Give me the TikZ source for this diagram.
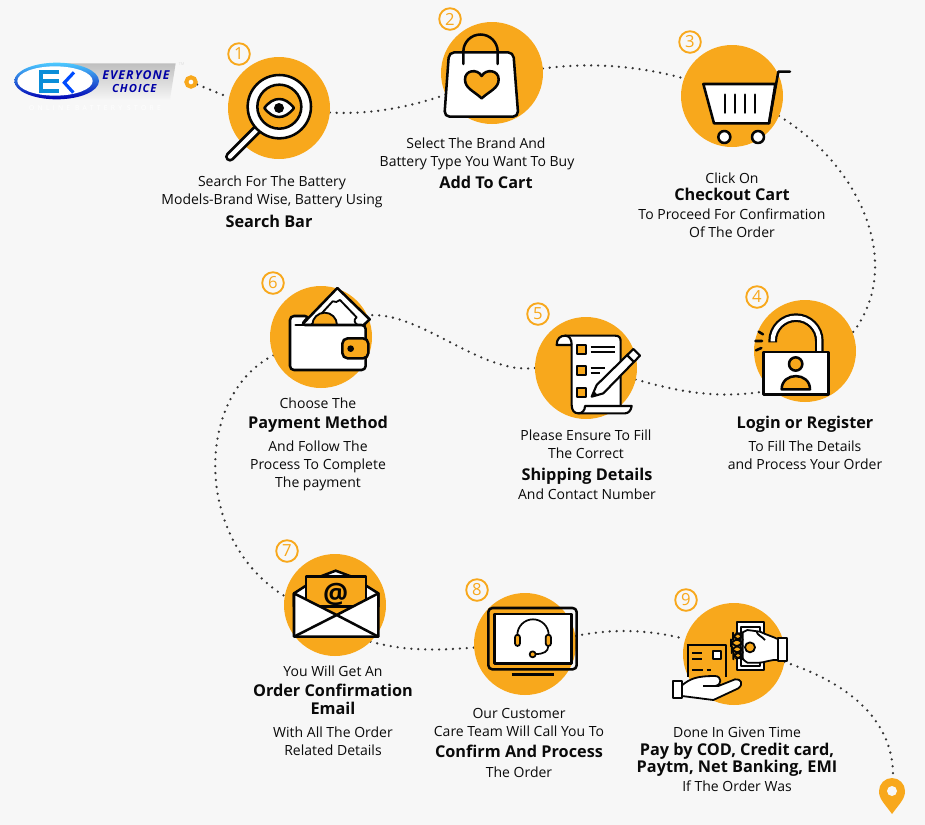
\documentclass[tikz,border=0pt]{standalone}
\usepackage{fontspec}
\setmainfont{Open Sans}
\usetikzlibrary{backgrounds}
\definecolor{bgc}{HTML}{F7F7F7}
\definecolor{org}{HTML}{F8A81C}
\definecolor{inkc}{HTML}{050505}
\definecolor{txtc}{HTML}{0A0A0A}
\definecolor{dotc}{HTML}{333333}
\tikzset{
 disc/.style={circle,fill=org,minimum size=76.5pt,inner sep=0pt,outer sep=0pt},
 badge/.style={circle,draw=org,line width=1.4pt,fill=bgc,minimum size=16.2pt,inner sep=0pt,text=org,font=\fontsize{12.5}{13}\selectfont},
 dots/.style={draw=dotc,line width=1.9pt,line cap=round,dash pattern=on 0pt off 5.2pt},
 txt/.style={text=txtc,inner sep=0pt,anchor=base,yshift=-3.75pt,font=\fontsize{10.5}{12}\selectfont},
 btxt/.style={text=txtc,inner sep=0pt,anchor=base,yshift=-4.3pt,font=\fontsize{12.2}{14}\selectfont\bfseries},
 ic/.style={draw=inkc,line width=1.9pt,line join=round},
 icw/.style={ic,fill=white},
 ico/.style={ic,fill=org},
 zoomA/.style={shift={(#1)},x=.25pt,y=-.25pt},
}
\newcommand\lineat[4]{\node[txt] (#1) at (#2,#3) {#4};}
\newcommand\boldat[4]{\node[btxt] (#1) at (#2,#3) {#4};}
\begin{document}
\begin{tikzpicture}[x=.75pt,y=-.75pt]
\useasboundingbox (0,0) rectangle (925,825);
\begin{pgfonlayer}{background}
\fill[bgc] (0,0) rectangle (925,825);
\end{pgfonlayer}
% discs
\node[disc] (c1) at (279,108) {};
\node[disc] (c2) at (492,73) {};
\node[disc] (c3) at (732,96) {};
\node[disc] (c4) at (805,351) {};
\node[disc] (c5) at (586,368) {};
\node[disc] (c6) at (321,337) {};
\node[disc] (c7) at (335,605) {};
\node[disc] (c8) at (525,644) {};
\node[disc] (c9) at (734,654) {};
% start ring and pin
\node[circle,draw=org,line width=3pt,fill=white,minimum size=7pt,inner sep=0pt] (start) at (191,82) {};
\fill[org] (892,814) .. controls (884,803) and (879,799) .. (879,791) arc[start angle=180,end angle=360,radius=13] .. controls (905,799) and (900,803) .. (892,814) -- cycle;
\node[circle,fill=bgc,minimum size=7.5pt,inner sep=0pt] (pinhole) at (892,791) {};
% connectors
\begin{pgfonlayer}{background}
\draw[dots] (start) -- (c1.168);
\draw[dots] (c1.-5) .. controls (370,115) and (410,107) .. (c2.205);
\draw[dots] (c2.5) .. controls (590,62) and (640,66) .. (c3.160);
\draw[dots] (c3.-23) .. controls (860,165) and (905,265) .. (c4.21);
\draw[dots] (c5.-13) .. controls (680,392) and (720,400) .. (c4.230);
\draw[dots] (c5.180) .. controls (480,375) and (420,310) .. (c6.25);
\draw[dots] (c6.201) .. controls (195,395) and (193,540) .. (c7.170);
\draw[dots] (c7.-46) .. controls (410,652) and (440,650) .. (c8.184);
\draw[dots] (c8.9) .. controls (615,628) and (650,630) .. (c9.163);
\coordinate (pintop) at (893,775);
\draw[dots] (c9.-9) .. controls (840,680) and (893,715) .. (pintop);
\end{pgfonlayer}
% badges
\node[badge] (n1) at (239,54) {1};
\node[badge] (n2) at (450,19) {2};
\node[badge] (n3) at (690,42) {3};
\node[badge] (n4) at (757,297) {4};
\node[badge] (n5) at (538,314) {5};
\node[badge] (n6) at (273,283) {6};
\node[badge] (n7) at (287,551) {7};
\node[badge] (n8) at (477,590) {8};
\node[badge] (n9) at (686,600) {9};
% logo
\begin{scope}[zoomA={0,20}]
\shade[top color=gray!50,bottom color=gray!8] (200,130) -- (527,130) -- (510,238) -- (200,238) -- cycle;
\shade[top color=cyan!70!blue!70,bottom color=blue!70!black] (170,183) ellipse[x radius=127,y radius=55];
\fill[white] (165,183) ellipse[x radius=113,y radius=44];
\draw[cyan!75!blue,line width=3pt] (178,155) -- (122,155) -- (122,212) -- (178,212) (122,183) -- (178,183);
\draw[blue!70!cyan,line width=2.4pt] (222,157) -- (193,188) -- (220,218);
\node[inner sep=0pt,text=blue!65!black,font=\fontsize{9.2}{10}\selectfont\bfseries\itshape\addfontfeatures{LetterSpace=9}] (lg1) at (408,166) {EVERYONE};
\node[inner sep=0pt,text=blue!65!black,font=\fontsize{8.4}{9}\selectfont\bfseries\itshape\addfontfeatures{LetterSpace=9}] (lg2) at (403,205) {CHOICE};
\node[inner sep=0pt,text=white,font=\fontsize{5}{6}\selectfont\addfontfeatures{LetterSpace=50}] (lg3) at (285,264) {ONLINE BATTERY STORE};
\node[inner sep=0pt,text=gray!25,font=\fontsize{3}{4}\selectfont] (lg4) at (545,132) {TM};
\end{scope}
% icon 1
\begin{scope}[zoomA={0,20}]
\draw[inkc,line width=7.5pt,line cap=round] (775,325) -- (690,410);
\draw[white,line width=3.2pt,line cap=round] (775,325) -- (690,410);
\draw[icw] (838,260) circle[radius=95];
\draw[ico] (838,260) circle[radius=66];
\draw[icw] (793,264) .. controls (820,228) and (855,228) .. (882,264) .. controls (855,300) and (820,300) .. (793,264) -- cycle;
\fill[inkc] (837,264) circle[radius=15];
\end{scope}
% icon 2
\begin{scope}[zoomA={420,0}]
\draw[icw,rounded corners=4pt] (87,157) -- (280,157) -- (295,350) -- (73,350) -- cycle;
\draw[ic,line cap=round] (130,192) -- (130,155) arc[start angle=180,end angle=360,radius=51.5] -- (233,192);
\draw[ico] (185,295) .. controls (160,272) and (135,265) .. (135,238) .. controls (135,210) and (172,205) .. (185,228) .. controls (198,205) and (236,210) .. (236,238) .. controls (236,265) and (210,272) .. (185,295) -- cycle;
\end{scope}
% icon 3
\begin{scope}[zoomA={420,0}]
\draw[icw] (850,252) -- (1066,252) -- (1047,370) -- (882,370) -- cycle;
\draw[ic,line cap=round] (1047,370) -- (1075,215) -- (1110,215);
\foreach \bx in {915,945,975,1005} \draw[ic,line cap=round] (\bx,284) -- (\bx,338);
\draw[icw] (913,411) circle[radius=18];
\draw[icw] (1014,411) circle[radius=18];
\end{scope}
% icon 4
\begin{scope}[zoomA={730,280}]
\draw[inkc,line width=6.5pt] (128,187) -- (128,183) arc[start angle=180,end angle=360,radius=70] -- (268,218);
\draw[white,line width=3.2pt] (128,184) -- (128,183) arc[start angle=180,end angle=360,radius=70] -- (268,218);
\draw[icw] (101,216) rectangle (295,343);
\draw[ico] (197,252) circle[radius=20];
\draw[ico] (155,328) .. controls (155,275) and (240,275) .. (240,328) -- cycle;
\draw[ic,line cap=round] (86,155) -- (99,163) (76,183) -- (96,183) (78,211) -- (94,204);
\end{scope}
% icon 5
\begin{scope}[zoomA={250,270},ic/.append style={line width=1.6pt}]
\draw[icw] (945,197) -- (1095,197) .. controls (1108,197) and (1112,203) .. (1112,215) -- (1112,408) -- (1145,408) .. controls (1143,422) and (1135,430) .. (1125,430) -- (985,430) .. controls (972,430) and (965,420) .. (965,405) -- (965,225) -- (920,225) .. controls (920,205) and (932,197) .. (945,197) -- cycle;
\draw[ic] (945,197) .. controls (958,197) and (965,207) .. (965,225);
\draw[ic] (985,430) .. controls (998,430) and (1005,420) .. (1005,408) -- (1112,408);
\draw[ico] (982,225) rectangle (1008,252);
\draw[ico] (982,288) rectangle (1008,315);
\draw[ico] (982,353) rectangle (1008,380);
\draw[ic] (1022,232) -- (1095,232) (1022,247) -- (1095,247) (1022,295) -- (1065,295) (1022,310) -- (1050,310);
\draw[icw] (1150,237) -- (1170,257) -- (1060,370) -- (1025,380) -- (1040,345) -- cycle;
\draw[ic] (1132,256) -- (1152,276);
\fill[inkc] (1025,380) -- (1031,362) -- (1042,374) -- cycle;
\end{scope}
% icon 6
\begin{scope}[zoomA={285,280}]
\draw[icw] (50,135) -- (157,24) -- (254,118) -- (235,136) -- cycle;
\draw[ic,fill=white,line width=1.4pt] (78,135) -- (143,64) .. controls (150,68) and (158,66) .. (165,60) -- (215,112) .. controls (205,118) and (208,130) .. (218,135);
\draw[ico,line width=1.4pt] (82,135) arc[start angle=180,end angle=360,radius=37];
\draw[icw,rounded corners=3pt] (15,108) -- (72,108) -- (48,135) -- (242,135) -- (242,270) -- (15,270) -- cycle;
\draw[ic,line cap=round] (32,135) -- (240,135);
\draw[ico,rounded corners=4pt] (172,175) rectangle (250,235);
\fill[inkc] (197,206) circle[radius=10];
\end{scope}
% icon 7
\begin{scope}[zoomA={270,540}]
\draw[icw] (150,110) -- (197,92) -- (245,110) -- (325,160) -- (325,200) -- (72,200) -- (72,160) -- cycle;
\draw[ico] (108,110) rectangle (288,200);
\draw[icw] (72,160) -- (200,225) -- (325,160) -- (325,290) -- (72,290) -- cycle;
\draw[ic] (72,290) -- (200,225) -- (325,290);
\node[inner sep=0pt,text=inkc,font=\fontsize{21}{24}\selectfont\bfseries] (at7) at (197,162) {@};
\end{scope}
% icon 8
\begin{scope}[zoomA={270,540}]
\draw[ic,rounded corners=3pt] (655,204) rectangle (920,388);
\draw[icw] (673,222) rectangle (904,370);
\draw[ic] (725,404) -- (852,404);
\draw[ic,line width=1.3pt] (742,285) arc[start angle=180,end angle=360,radius=47];
\draw[ic,line width=1.3pt] (835,318) .. controls (835,335) and (820,342) .. (798,342);
\draw[ico,line width=1.3pt,rounded corners=2pt] (735,284) rectangle (750,318);
\draw[ico,line width=1.3pt,rounded corners=2pt] (827,284) rectangle (843,318);
\draw[ico,line width=1.3pt] (788,343) circle[radius=9];
\end{scope}
% icon 9
\begin{scope}[zoomA={670,620},ic/.append style={line width=1.35pt}]
% card
\draw[ic] (50,76) -- (169,76) -- (169,170);
\draw[ic] (55,76) -- (55,170);
\draw[ic] (66,98) -- (96,98) (66,116) -- (96,116) (66,150) -- (100,150) (110,150) -- (124,150);
\draw[icw] (128,94) rectangle (153,118);
% lower hand
\draw[icw] (10,183) rectangle (36,234);
\draw[icw] (36,196) .. controls (60,176) and (80,168) .. (135,168) .. controls (155,168) and (158,195) .. (135,198) -- (145,198) -- (195,178) .. controls (212,175) and (222,192) .. (205,205) -- (130,240) -- (36,228) -- cycle;
\draw[ic] (100,198) -- (138,198);
% money
\draw[icw] (200,7) rectangle (283,151);
\draw[ic] (213,22) -- (270,22) -- (270,137) -- (213,137) -- cycle;
% upper hand
\draw[icw] (232,30) -- (270,35) .. controls (290,45) and (310,50) .. (325,58) -- (325,120) .. controls (300,118) and (285,128) .. (268,128) -- (232,128) .. controls (218,120) and (214,110) .. (212,100) -- (212,40) -- cycle;
\draw[icw] (325,55) rectangle (350,124);
\draw[ico] (240,82) circle[radius=15];
\draw[ic] (260,35) .. controls (262,46) and (275,48) .. (285,60);
\draw[ico,rounded corners=5pt] (189,40) rectangle (218,58);
\draw[ico,rounded corners=5pt] (183,59) rectangle (218,78);
\draw[ico,rounded corners=5pt] (185,79) rectangle (218,97);
\draw[ico,rounded corners=5pt] (190,98) rectangle (218,115);
\end{scope}
% text
\lineat{t1a}{272}{181}{Search For The Battery}
\lineat{t1b}{272}{199}{Models-Brand Wise, Battery Using}
\boldat{t1c}{269}{222}{Search Bar}
\lineat{t2a}{476}{143}{Select The Brand And}
\lineat{t2b}{477}{161}{Battery Type You Want To Buy}
\boldat{t2c}{486}{183}{Add To Cart}
\lineat{t3a}{732}{178}{Click On}
\boldat{t3b}{732}{195}{Checkout Cart}
\lineat{t3c}{732}{214}{To Proceed For Confirmation}
\lineat{t3d}{732}{232}{Of The Order}
\boldat{t4a}{805}{423}{Login or Register}
\lineat{t4b}{805}{446}{To Fill The Details}
\lineat{t4c}{805}{464}{and Process Your Order}
\lineat{t5a}{586}{435}{Please Ensure To Fill}
\lineat{t5b}{586}{453}{The Correct}
\boldat{t5c}{587}{475}{Shipping Details}
\lineat{t5d}{587}{494}{And Contact Number}
\lineat{t6a}{318}{403}{Choose The}
\boldat{t6b}{318}{423}{Payment Method}
\lineat{t6c}{318}{446}{And Follow The}
\lineat{t6d}{318}{464}{Process To Complete}
\lineat{t6e}{318}{482}{The payment}
\lineat{t7a}{333}{671}{You Will Get An}
\boldat{t7b}{333}{691}{Order Confirmation}
\boldat{t7c}{333}{709}{Email}
\lineat{t7d}{333}{732}{With All The Order}
\lineat{t7e}{333}{750}{Related Details}
\lineat{t8a}{519}{713}{Our Customer}
\lineat{t8b}{519}{731}{Care Team Will Call You To}
\boldat{t8c}{519}{752}{Confirm And Process}
\lineat{t8d}{519}{772}{The Order}
\lineat{t9a}{737}{732}{Done In Given Time}
\boldat{t9b}{737}{750}{Pay by COD, Credit card,}
\boldat{t9c}{737}{767}{Paytm, Net Banking, EMI}
\lineat{t9d}{737}{786}{If The Order Was}
\end{tikzpicture}
\end{document}
